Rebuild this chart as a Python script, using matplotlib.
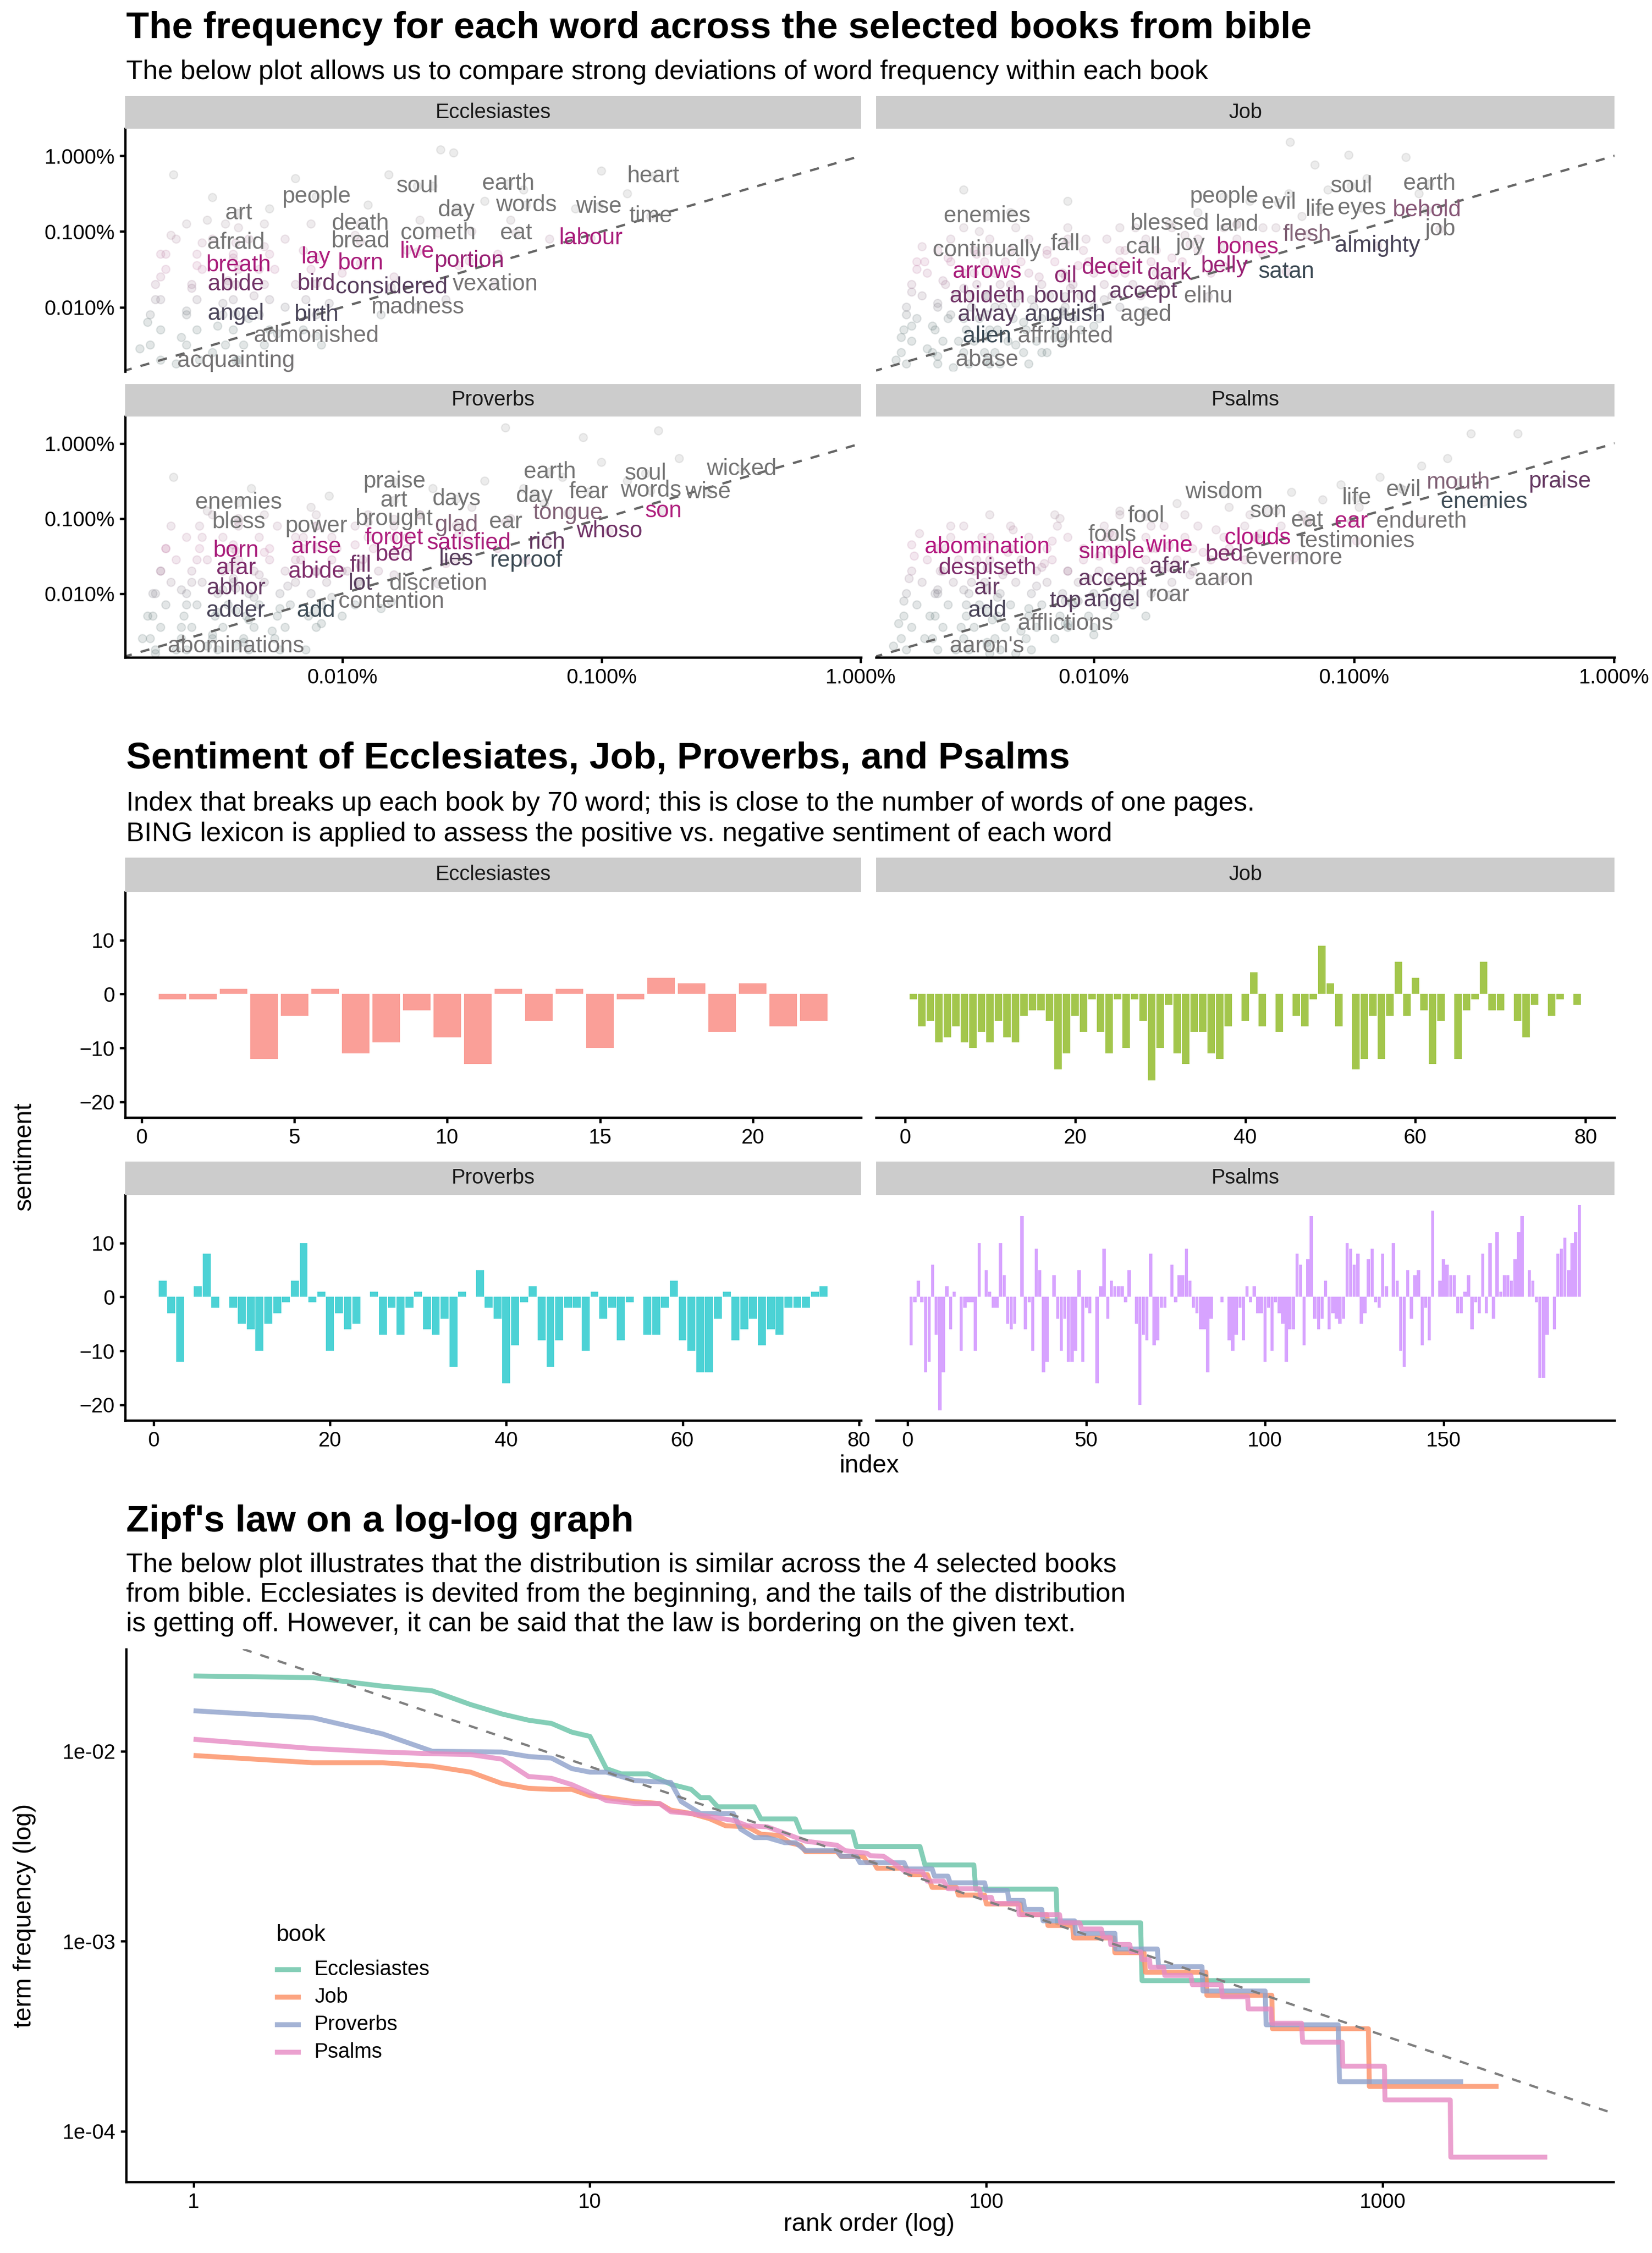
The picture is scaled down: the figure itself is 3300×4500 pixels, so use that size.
import numpy as np
import matplotlib
matplotlib.use("Agg")
import matplotlib.pyplot as plt
from matplotlib.colors import LinearSegmentedColormap
from matplotlib.patches import Rectangle
from matplotlib.lines import Line2D

plt.rcParams["font.family"] = ["Liberation Sans", "DejaVu Sans"]

# ---------- word frequencies (log10 of proportion), x = all books, y = this book ----------
ecc_words = ["heart", "earth", "soul", "people", "day", "words", "wise", "time", "art", "death",
             "cometh", "eat", "labour", "afraid", "bread", "live", "lay", "born", "portion", "breath",
             "abide", "bird", "considered", "vexation", "angel", "birth", "madness", "admonished", "acquainting"]
ecc_x = [-2.80, -3.36, -3.71, -4.10, -3.56, -3.29, -3.01, -2.81, -4.40, -3.93,
         -3.63, -3.33, -3.04, -4.41, -3.93, -3.71, -4.10, -3.93, -3.51, -4.40,
         -4.41, -4.10, -3.81, -3.41, -4.41, -4.10, -3.71, -4.10, -4.41]
ecc_y = [-2.27, -2.37, -2.40, -2.54, -2.72, -2.65, -2.67, -2.80, -2.76, -2.90,
         -3.02, -3.02, -3.09, -3.15, -3.13, -3.27, -3.34, -3.42, -3.39, -3.45,
         -3.70, -3.69, -3.74, -3.70, -4.09, -4.10, -4.00, -4.38, -4.71]
ecc_tone = [0, 0, 0, 0, 0, 0, 0, 0, 0, 0,
            0, 0, 0.55, 0, 0, 0.45, 0.45, 0.55, 0.6, 0.55,
            0.75, 0.78, 0.85, 1, 0.9, 0.9, 1, 1, 1]

job_words = ["earth", "soul", "people", "evil", "life", "eyes", "behold", "job", "enemies", "blessed",
             "land", "flesh", "almighty", "continually", "fall", "call", "joy", "bones", "arrows", "oil",
             "deceit", "dark", "belly", "satan", "abideth", "bound", "accept", "elihu", "alway", "anguish",
             "aged", "alien", "affrighted", "abase"]
job_x = [-2.71, -3.01, -3.50, -3.29, -3.13, -2.97, -2.72, -2.67, -4.41, -3.71,
         -3.45, -3.18, -2.91, -4.41, -4.11, -3.81, -3.63, -3.41, -4.41, -4.11,
         -3.93, -3.71, -3.50, -3.26, -4.41, -4.11, -3.81, -3.56, -4.41, -4.11,
         -3.80, -4.41, -4.11, -4.41]
job_y = [-2.37, -2.40, -2.54, -2.62, -2.71, -2.69, -2.72, -2.97, -2.80, -2.90,
         -2.91, -3.04, -3.19, -3.25, -3.17, -3.21, -3.17, -3.21, -3.53, -3.59,
         -3.48, -3.55, -3.46, -3.53, -3.86, -3.86, -3.80, -3.86, -4.10, -4.10,
         -4.10, -4.39, -4.39, -4.70]
job_tone = [0, 0, 0, 0, 0, 0, 0.15, 1, 0, 0,
            0, 0.1, 0.9, 0, 0, 0, 0, 0.45, 0.55, 0.65,
            0.58, 0.65, 0.6, 0.95, 0.75, 0.8, 0.8, 1, 0.85, 0.9,
            1, 0.95, 1, 1]

pro_words = ["wicked", "soul", "earth", "praise", "words", "wise", "fear", "day", "days", "art",
             "enemies", "tongue", "son", "bless", "power", "brought", "glad", "ear", "whoso", "forget",
             "satisfied", "rich", "born", "arise", "bed", "lies", "reproof", "fill", "afar", "abide",
             "lot", "discretion", "abhor", "contention", "adder", "add", "abominations"]
pro_x = [-2.46, -2.83, -3.20, -3.80, -2.81, -2.59, -3.05, -3.26, -3.56, -3.80,
         -4.40, -3.13, -2.76, -4.40, -4.10, -3.80, -3.56, -3.37, -2.97, -3.80,
         -3.51, -3.21, -4.41, -4.10, -3.80, -3.56, -3.29, -3.93, -4.41, -4.10,
         -3.93, -3.63, -4.41, -3.81, -4.41, -4.10, -4.41]
pro_y = [-2.34, -2.40, -2.38, -2.51, -2.63, -2.65, -2.65, -2.70, -2.74, -2.76,
         -2.79, -2.93, -2.90, -3.05, -3.10, -3.01, -3.09, -3.05, -3.17, -3.26,
         -3.33, -3.32, -3.43, -3.38, -3.48, -3.54, -3.56, -3.63, -3.66, -3.71,
         -3.87, -3.87, -3.93, -4.11, -4.23, -4.23, -4.70]
pro_tone = [0, 0, 0, 0, 0, 0, 0, 0, 0, 0,
            0, 0.1, 0.45, 0, 0, 0, 0.1, 0, 0.75, 0.45,
            0.55, 0.8, 0.55, 0.55, 0.7, 0.85, 0.95, 0.75, 0.7, 0.7,
            0.85, 1, 0.8, 1, 0.9, 0.95, 1]

psa_words = ["praise", "mouth", "evil", "life", "enemies", "wisdom", "son", "fool", "eat", "ear",
             "endureth", "fools", "clouds", "testimonies", "abomination", "simple", "wine", "bed", "evermore", "despiseth",
             "afar", "accept", "aaron", "air", "top", "angel", "roar", "add", "afflictions", "aaron's"]
psa_x = [-2.21, -2.60, -2.81, -2.99, -2.50, -3.50, -3.33, -3.80, -3.18, -3.01,
         -2.74, -3.93, -3.37, -2.99, -4.41, -3.93, -3.71, -3.50, -3.23, -4.41,
         -3.71, -3.93, -3.50, -4.41, -4.11, -3.93, -3.71, -4.41, -4.11, -4.41]
psa_y = [-2.51, -2.52, -2.62, -2.73, -2.78, -2.65, -2.90, -2.97, -3.03, -3.04,
         -3.04, -3.22, -3.26, -3.30, -3.38, -3.45, -3.36, -3.48, -3.53, -3.66,
         -3.65, -3.81, -3.81, -3.93, -4.10, -4.09, -4.02, -4.23, -4.40, -4.70]
psa_tone = [0.8, 0.1, 0, 0, 0.95, 0, 0, 0, 0, 0.45,
            1, 0, 0.5, 1, 0.5, 0.55, 0.5, 0.7, 1, 0.7,
            0.8, 0.8, 1, 0.8, 0.85, 0.85, 1, 0.9, 1, 1]

# faint jittered points behind the words (log10 x, log10 y): scattered ones ...
ecc_cloud_x = [-4.78, -4.75, -4.72, -4.70, -4.68, -4.66, -4.64, -4.62, -4.60, -4.58, -4.56, -4.54, -4.52, -4.50,
               -4.48, -4.46, -4.44, -4.42, -4.40, -4.38, -4.36, -4.34, -4.32, -4.30, -4.28, -4.25, -4.22, -4.18,
               -4.15, -4.12, -4.08, -4.05, -4.00, -3.95, -3.90, -3.85, -3.80, -3.75, -3.70, -3.65, -3.60, -3.55,
               -3.50, -3.45, -3.40, -3.35, -3.30, -3.20, -3.10, -3.00, -2.90, -3.62, -3.57, -4.65, -4.50, -4.18, -3.82]
ecc_cloud_y = [-4.55, -4.20, -3.90, -3.60, -3.30, -3.05, -4.75, -4.40, -4.05, -3.75, -3.45, -3.15, -2.85, -4.60,
               -4.25, -3.95, -3.65, -3.35, -2.95, -4.50, -4.15, -3.85, -3.50, -3.20, -2.70, -4.35, -4.00, -3.70,
               -3.25, -2.90, -4.50, -3.95, -3.55, -3.05, -2.65, -4.10, -3.60, -3.25, -2.85, -2.40, -3.90, -3.45,
               -3.00, -2.60, -3.30, -2.85, -2.45, -3.10, -2.70, -2.20, -2.50, -1.92, -1.96, -2.25, -2.55, -2.30, -2.25]

job_cloud_x = [-4.76, -4.74, -4.72, -4.70, -4.68, -4.66, -4.64, -4.62, -4.60, -4.58, -4.56, -4.54, -4.52, -4.50,
               -4.48, -4.46, -4.44, -4.42, -4.40, -4.38, -4.36, -4.34, -4.32, -4.30, -4.27, -4.24, -4.21, -4.18,
               -4.15, -4.12, -4.09, -4.06, -4.03, -4.00, -3.96, -3.92, -3.88, -3.84, -3.80, -3.75, -3.70, -3.65,
               -3.60, -3.55, -3.50, -3.45, -3.40, -3.35, -3.30, -3.25, -3.20, -3.15, -3.10, -3.02, -2.95, -2.80,
               -2.75, -3.245, -4.50, -4.10, -4.70, -4.60, -4.50, -4.40, -4.30, -4.20, -4.65, -4.55, -4.45, -4.35]
job_cloud_y = [-4.70, -4.40, -4.10, -3.80, -3.50, -3.20, -4.55, -4.25, -3.95, -3.65, -3.35, -4.80, -4.45, -4.15,
               -3.85, -3.55, -3.00, -4.60, -4.30, -4.00, -3.70, -3.40, -2.75, -4.50, -4.20, -3.90, -3.60, -3.30,
               -4.40, -4.05, -3.75, -3.45, -3.10, -4.25, -3.90, -3.55, -3.25, -2.95, -4.05, -3.70, -3.35, -3.05,
               -2.75, -3.55, -3.20, -2.90, -2.60, -3.30, -2.95, -2.50, -2.80, -2.12, -2.45, -1.99, -2.30, -2.02,
               -2.50, -1.82, -2.45, -2.60, -4.25, -4.65, -3.75, -4.75, -3.95, -4.60, -3.40, -4.10, -3.30, -3.85]

pro_cloud_x = [-4.77, -4.75, -4.73, -4.70, -4.68, -4.66, -4.64, -4.62, -4.60, -4.58, -4.56, -4.54, -4.52, -4.50,
               -4.48, -4.46, -4.44, -4.42, -4.40, -4.38, -4.36, -4.34, -4.32, -4.30, -4.27, -4.24, -4.21, -4.18,
               -4.15, -4.12, -4.08, -4.04, -4.00, -3.95, -3.90, -3.85, -3.80, -3.75, -3.70, -3.65, -3.60, -3.55,
               -3.50, -3.45, -3.40, -3.35, -3.30, -3.22, -3.15, -3.07, -3.00, -2.90, -2.78, -2.70, -3.37, -4.65,
               -4.35, -4.05, -4.72, -4.62, -4.52, -4.42]
pro_cloud_y = [-4.60, -4.30, -4.00, -3.70, -3.40, -3.10, -4.75, -4.45, -4.15, -3.85, -3.55, -3.25, -2.90, -4.55,
               -4.25, -3.95, -3.65, -3.35, -3.00, -4.65, -4.35, -4.05, -3.75, -3.45, -4.50, -4.20, -3.90, -3.55,
               -3.25, -2.85, -4.40, -4.05, -3.70, -3.35, -3.05, -4.20, -3.75, -3.40, -2.95, -2.60, -3.60, -3.20,
               -2.85, -2.50, -3.40, -3.00, -2.60, -2.80, -2.45, -1.92, -2.25, -2.50, -1.83, -2.20, -1.79, -2.45,
               -2.60, -2.70, -4.80, -3.95, -4.70, -3.80]

psa_cloud_x = [-4.77, -4.75, -4.73, -4.71, -4.69, -4.67, -4.65, -4.63, -4.61, -4.59, -4.57, -4.55, -4.53, -4.51,
               -4.49, -4.47, -4.45, -4.43, -4.41, -4.39, -4.37, -4.35, -4.33, -4.31, -4.28, -4.25, -4.22, -4.19,
               -4.16, -4.13, -4.10, -4.06, -4.02, -3.98, -3.94, -3.90, -3.86, -3.82, -3.78, -3.73, -3.68, -3.63,
               -3.58, -3.53, -3.48, -3.42, -3.36, -3.30, -3.24, -3.18, -3.12, -3.05, -2.98, -2.90, -2.82, -2.74,
               -2.64, -2.55, -2.37, -4.60, -4.40, -4.20, -4.00, -3.80, -4.70, -4.50, -4.30, -4.10]
psa_cloud_y = [-4.70, -4.40, -4.10, -3.80, -3.50, -3.20, -4.60, -4.30, -4.00, -3.70, -3.40, -3.10, -4.75, -4.45,
               -4.15, -3.85, -3.55, -3.25, -4.65, -4.35, -4.05, -3.75, -3.45, -3.15, -4.50, -4.20, -3.90, -3.60,
               -3.30, -3.00, -4.40, -4.10, -3.80, -3.50, -3.20, -2.90, -4.00, -3.70, -3.40, -3.10, -2.80, -3.75,
               -3.45, -3.15, -2.85, -3.55, -3.20, -2.90, -2.65, -3.05, -2.75, -2.55, -2.85, -2.45, -2.60, -2.30,
               -2.20, -1.87, -1.87, -3.95, -4.80, -3.65, -4.55, -4.30, -3.35, -3.95, -4.80, -3.70]

# ... and the dense low-frequency cores, row by row (log10 y, [log10 x, ...])
ecc_core = [(-4.70, [-4.70, -4.55, -4.40]),
            (-4.50, [-4.74, -4.60, -4.45, -4.30]),
            (-4.30, [-4.70, -4.56, -4.42, -4.28, -4.15]),
            (-4.10, [-4.74, -4.60, -4.46, -4.32]),
            (-3.90, [-4.70, -4.56, -4.42, -4.28, -4.14]),
            (-3.70, [-4.72, -4.58, -4.44, -4.30]),
            (-3.50, [-4.68, -4.54, -4.40, -4.26, -4.12]),
            (-3.30, [-4.70, -4.56, -4.42, -4.28]),
            (-3.10, [-4.64, -4.50, -4.36, -4.22]),
            (-2.90, [-4.60, -4.45, -4.30])]
job_core = [(-4.75, [-4.72, -4.60, -4.48, -4.36, -4.25]),
            (-4.60, [-4.74, -4.62, -4.50, -4.38, -4.27, -4.18]),
            (-4.45, [-4.70, -4.58, -4.46, -4.33, -4.22, -4.12]),
            (-4.30, [-4.73, -4.61, -4.49, -4.37, -4.26, -4.15, -4.05]),
            (-4.15, [-4.68, -4.56, -4.44, -4.31, -4.20, -4.08, -3.98]),
            (-4.00, [-4.72, -4.60, -4.47, -4.35, -4.23, -4.11, -4.00, -3.90]),
            (-3.85, [-4.66, -4.53, -4.41, -4.29, -4.17, -4.05, -3.93, -3.82]),
            (-3.70, [-4.70, -4.57, -4.45, -4.32, -4.20, -4.08, -3.96, -3.85, -3.74]),
            (-3.55, [-4.64, -4.50, -4.38, -4.25, -4.12, -4.00, -3.88, -3.76]),
            (-3.40, [-4.68, -4.55, -4.42, -4.28, -4.15, -4.02, -3.90, -3.78, -3.66]),
            (-3.25, [-4.60, -4.46, -4.32, -4.18, -4.04, -3.90, -3.76, -3.60]),
            (-3.10, [-4.55, -4.40, -4.25, -4.10, -3.95, -3.80, -3.60, -3.45]),
            (-2.95, [-4.50, -4.30, -4.10, -3.90, -3.70, -3.50, -3.35])]
pro_core = [(-4.75, [-4.72, -4.60, -4.48, -4.36, -4.24, -4.14]),
            (-4.60, [-4.74, -4.62, -4.50, -4.38, -4.26]),
            (-4.45, [-4.70, -4.58, -4.46, -4.34, -4.22, -4.10]),
            (-4.30, [-4.73, -4.61, -4.49, -4.37, -4.25, -4.13, -4.00]),
            (-4.15, [-4.68, -4.56, -4.44, -4.32, -4.20, -4.08, -3.95]),
            (-4.00, [-4.72, -4.60, -4.48, -4.36, -4.24, -4.12]),
            (-3.85, [-4.66, -4.54, -4.42, -4.30, -4.18, -4.06, -3.94]),
            (-3.70, [-4.70, -4.58, -4.46, -4.34, -4.22, -4.10, -3.98, -3.86]),
            (-3.55, [-4.64, -4.52, -4.40, -4.28, -4.16, -4.04, -3.92]),
            (-3.40, [-4.68, -4.55, -4.42, -4.28, -4.15, -4.02, -3.88]),
            (-3.25, [-4.60, -4.46, -4.32, -4.18, -4.04, -3.90, -3.75]),
            (-3.10, [-4.55, -4.40, -4.25, -4.10, -3.95, -3.80]),
            (-2.95, [-4.50, -4.30, -4.10, -3.90, -3.70])]
psa_core = [(-4.75, [-4.72, -4.60, -4.48, -4.36, -4.24]),
            (-4.60, [-4.74, -4.62, -4.50, -4.38, -4.26, -4.15]),
            (-4.45, [-4.70, -4.58, -4.46, -4.34, -4.22, -4.10, -4.00]),
            (-4.30, [-4.73, -4.61, -4.49, -4.37, -4.25, -4.13, -4.02, -3.92]),
            (-4.15, [-4.68, -4.56, -4.44, -4.32, -4.20, -4.08, -3.96, -3.85]),
            (-4.00, [-4.72, -4.60, -4.48, -4.36, -4.24, -4.12, -4.00, -3.88, -3.78]),
            (-3.85, [-4.66, -4.54, -4.42, -4.30, -4.18, -4.06, -3.94, -3.82, -3.70]),
            (-3.70, [-4.70, -4.58, -4.46, -4.34, -4.22, -4.10, -3.98, -3.86, -3.74, -3.62]),
            (-3.55, [-4.64, -4.52, -4.40, -4.28, -4.16, -4.04, -3.92, -3.80, -3.68, -3.55]),
            (-3.40, [-4.60, -4.46, -4.32, -4.18, -4.04, -3.90, -3.76, -3.62, -3.48]),
            (-3.25, [-4.55, -4.40, -4.25, -4.10, -3.95, -3.80, -3.65, -3.50, -3.38]),
            (-3.10, [-4.50, -4.32, -4.14, -3.96, -3.78, -3.60, -3.42, -3.28]),
            (-2.95, [-4.40, -4.15, -3.90, -3.65, -3.40, -3.20])]

# ---------- sentiment per 70-word index ----------
ecc_sent = [-1, -1, 1, -12, -4, 1, -11, -9, -3, -8, -13, 1, -5, 1, -10, -1, 3, 2, -7, 2, -6, -5]
job_sent = [-1, -6, -5, -9, -8, -6, -9, -10, -7, -9, -5, -8, -9, -4, -3, -3, -5, -14, -11, -4,
            -7, -1, -7, -11, -1, -10, -1, -5, -16, -10, -2, -11, -13, -7, -7, -11, -12, -6, 0, -5,
            4, -6, 0, -7, 0, -4, -6, -1, 9, 2, -6, 0, -14, -12, -4, -12, -4, 6, -4, 3,
            -3, -13, -5, 0, -12, -3, -1, 6, -3, -3, 0, -5, -8, -2, 0, -4, -1, 0, -2]
pro_sent = [3, -3, -12, 0, 2, 8, -2, 0, -2, -5, -6, -10, -5, -3, -1, 3, 10, -1, 1, -10,
            -3, -6, -5, 0, 1, -7, -2, -7, -2, 1, -6, -7, -4, -13, 1, 0, 5, -2, -4, -16,
            -9, -1, 2, -8, -13, -8, -2, -2, -10, 1, -4, -2, -8, -1, 0, -7, -7, -2, 3, -8,
            -10, -14, -14, -4, 1, -8, -6, -4, -9, -6, -7, -2, -2, -2, 1, 2]
psa_sent = [-9, -1, 3, -1, -14, -12, 6, -7, -21, -14, 2, -6, 1, 0, -10, -2, -1, -1, -10, 10,
            0, 5, 1, -2, -2, 10, 4, -5, -6, -5, 0, 15, -6, -1, -10, 9, 5, -14, -12, 0,
            4, -4, -10, -4, -12, -12, -10, 5, -12, -2, -3, 0, -16, 2, 9, -4, 3, 2, 2, 2,
            -1, 5, 0, -5, -20, -7, -8, 8, -9, -8, -2, -2, 0, 6, -1, 4, 4, 9, 3, -2,
            -3, -6, -6, -14, -4, 0, 0, -1, 0, -8, -10, -7, -2, -8, 2, -1, 2, -3, -3, -12,
            -2, -10, -1, -3, -5, -12, -6, -6, 8, 6, -9, 7, 15, -4, -6, -4, 3, -6, -3, -4,
            -5, -4, 10, 9, 6, 8, -5, -3, 7, 9, -1, -2, 8, 2, 0, 10, 3, -10, -13, 5,
            -4, 4, 5, -9, -2, -8, 16, 0, 3, 7, 6, 4, 4, -3, -3, 1, 4, -6, -1, -3,
            8, -3, 10, -4, 12, 1, 4, 4, 3, 7, 12, 15, 0, 5, 3, -1, -15, -15, -7, 0,
            -6, 8, 9, 11, 5, 10, 12, 17]

# ---------- Zipf: rank vs term frequency (step vertices) ----------
ecc_rank = [1, 2, 3, 4, 5, 6, 7, 8, 9, 10, 11, 12, 14, 16, 18, 19, 20, 21, 26, 27, 33, 34, 46, 47,
            68, 70, 93, 94, 150, 151, 245, 247, 655]
ecc_tf = [.0249, .0244, .0220, .0208, .0176, .0157, .01456, .0140, .0126, .01197, .0081, .0076, .0076,
          .0067, .0063, .0057, .0057, .0051, .0051, .0044, .0044, .00376, .00376, .00315, .00315, .00252,
          .00252, .00188, .00188, .00125, .00125, .00062, .00062]
job_rank = [1, 2, 3, 4, 5, 6, 7, 8, 9, 10, 11, 13, 15, 16, 18, 20, 22, 25, 27, 30, 32, 34, 35, 42,
            43, 49, 50, 52, 53, 63, 64, 71, 73, 84, 85, 99, 100, 122, 123, 142, 143, 165, 166, 210, 211,
            250, 252, 358, 360, 525, 527, 920, 925, 1960]
job_tf = [.0095, .0087, .0087, .00834, .00776, .00676, .00638, .0063, .0063, .00583, .0057, .00543, .0053,
          .0049, .0047, .00442, .00405, .0040, .00366, .0036, .00329, .0032, .00296, .00296, .00279, .00279,
          .0026, .0026, .00242, .00242, .00224, .00224, .00192, .00192, .00175, .00175, .00157, .00157,
          .00138, .00138, .00121, .00121, .00104, .00104, .00087, .00087, .000687, .000687, .000519,
          .000519, .000346, .000346, .000172, .000172]
pro_rank = [1, 2, 3, 4, 6, 7, 8, 9, 10, 11, 13, 16, 17, 19, 23, 24, 26, 28, 31, 33, 35, 42, 43, 47,
            48, 62, 63, 73, 74, 80, 81, 99, 100, 113, 114, 124, 125, 138, 139, 167, 168, 211, 212, 270,
            272, 350, 352, 505, 508, 772, 778, 1595]
pro_tf = [.01633, .0150, .01233, .0100, .0099, .00938, .0092, .0081, .00776, .00776, .0070, .00685,
          .00543, .0047, .0047, .00389, .00351, .00351, .0033, .0033, .0030, .0030, .0028, .0028, .00259,
          .00259, .0024, .0024, .0022, .0022, .00203, .00203, .00185, .00185, .00164, .00164, .00147,
          .00147, .00128, .00128, .0011, .0011, .00091, .00091, .000734, .000734, .000547, .000547,
          .000363, .000363, .000182, .000182]
psa_rank = [1, 2, 3, 4, 5, 6, 7, 8, 9, 10, 11, 13, 15, 16, 18, 23, 25, 28, 31, 35, 42, 44, 50, 51,
            55, 58, 62, 69, 71, 78, 80, 96, 97, 103, 104, 120, 121, 153, 154, 172, 174, 195, 197, 205,
            206, 230, 232, 245, 247, 258, 259, 280, 282, 328, 331, 391, 394, 456, 458, 522, 525, 624,
            628, 790, 793, 1010, 1013, 1480, 1485, 2600]
psa_tf = [.01156, .01033, .0099, .0097, .0096, .00908, .00736, .0072, .00667, .00605, .0055, .0053,
          .0053, .0048, .0047, .00432, .00405, .0040, .0037, .00336, .0032, .0030, .0029, .00282, .0028,
          .0026, .00235, .00232, .00207, .00207, .00189, .00189, .0017, .0017, .00158, .00158, .00138,
          .00138, .00125, .00125, .00116, .00116, .00105, .00105, .00096, .00096, .00088, .00088, .0008,
          .0008, .00073, .00073, .00066, .00066, .00059, .00059, .00051, .00051, .00044, .00044, .00037,
          .00037, .000294, .000294, .00022, .00022, .000146, .000146, .000073, .000073]
zipf_intercept = -1.374
zipf_slope = -0.707

books = ["Ecclesiastes", "Job", "Proverbs", "Psalms"]
hue = ["#F8766D", "#7CAE00", "#00BFC4", "#C77CFF"]
set2 = ["#66C2A5", "#FC8D62", "#8DA0CB", "#E78AC3"]

W, H = 3300, 4500
fig = plt.figure(figsize=(11, 15), dpi=300)
word_cmap = LinearSegmentedColormap.from_list("wc", ["#747474", "#B5177F", "#2F4F4F"])
point_cmap = LinearSegmentedColormap.from_list("pc", ["#8A8A8A", "#C070A0", "#4F6868"])


def box(x0, y0, x1, y1):
    return [x0 / W, 1 - y1 / H, (x1 - x0) / W, (y1 - y0) / H]


def ftext(x, y, s, **kw):
    fig.text(x / W, 1 - y / H, s, **kw)


def strip(x0, y0, x1, y1, label):
    fig.add_artist(Rectangle((x0 / W, 1 - y1 / H), (x1 - x0) / W, (y1 - y0) / H,
                             transform=fig.transFigure, facecolor="#CCCCCC", edgecolor="none"))
    ftext((x0 + x1) / 2, (y0 + y1) / 2, label, ha="center", va="center", fontsize=10, color="#1A1A1A")


def classic(ax, left=True, bottom=True):
    for s in ["top", "right"]:
        ax.spines[s].set_visible(False)
    for s in ["left", "bottom"]:
        ax.spines[s].set_linewidth(1.1)
    ax.spines["left"].set_visible(left)
    ax.spines["bottom"].set_visible(bottom)
    ax.tick_params(length=2.75, width=1.1, pad=2.2, labelsize=10, colors="black")
    if not left:
        ax.tick_params(axis="y", left=False, labelleft=False)
    if not bottom:
        ax.tick_params(axis="x", bottom=False, labelbottom=False)


# ================= section 1 =================
ftext(252, 76, "The frequency for each word across the selected books from bible",
      fontsize=18, fontweight="bold", va="baseline")
ftext(252, 158, "The below plot allows us to compare strong deviations of word frequency within each book",
      fontsize=13, va="baseline")

cols = [(250, 1720), (1750, 3225)]
rows1 = [(192, 257, 742), (767, 832, 1313)]
word_sets = [(ecc_words, ecc_x, ecc_y, ecc_tone, ecc_cloud_x, ecc_cloud_y, ecc_core),
             (job_words, job_x, job_y, job_tone, job_cloud_x, job_cloud_y, job_core),
             (pro_words, pro_x, pro_y, pro_tone, pro_cloud_x, pro_cloud_y, pro_core),
             (psa_words, psa_x, psa_y, psa_tone, psa_cloud_x, psa_cloud_y, psa_core)]
pct = ["0.010%", "0.100%", "1.000%"]

for k, (words, wx, wy, tone, cx, cy, core) in enumerate(word_sets):
    r, c = divmod(k, 2)
    s0, p0, p1 = rows1[r]
    x0, x1 = cols[c]
    strip(x0, s0, x1, p0, books[k])
    ax = fig.add_axes(box(x0, p0, x1, p1))
    ax.set_xscale("log")
    ax.set_yscale("log")
    px = list(cx) + list(wx) + [x for _, xs in core for x in xs]
    py = list(cy) + list(wy) + [y for y, xs in core for _ in xs]
    px = np.array(px)
    py = np.array(py)
    ptone = np.clip((-2.7 - py) / 1.5, 0, 1)
    ax.scatter(10 ** px, 10 ** py, s=15, c=point_cmap(ptone), alpha=0.16,
               edgecolors=point_cmap(ptone), linewidths=0.6)
    ax.plot([1e-6, 1], [1e-6, 1], color="#666666", lw=1.1, ls=(0, (4, 4)))
    for w, x, y, t in zip(words, wx, wy, tone):
        ax.text(10 ** x, 10 ** y, w, color=word_cmap(t), fontsize=11, ha="center", va="center")
    ax.set_xlim(10 ** -4.837, 10 ** -1.999)
    ax.set_ylim(10 ** -4.85, 10 ** -1.64)
    ax.set_xticks([1e-4, 1e-3, 1e-2])
    ax.set_xticklabels(pct)
    ax.set_yticks([1e-4, 1e-3, 1e-2])
    ax.set_yticklabels(pct)
    ax.minorticks_off()
    classic(ax, left=(c == 0), bottom=(r == 1))

# ================= section 2 =================
ftext(252, 1535, "Sentiment of Ecclesiates, Job, Proverbs, and Psalms",
      fontsize=18, fontweight="bold", va="baseline")
ftext(252, 1619, "Index that breaks up each book by 70 word; this is close to the number of words of one pages.",
      fontsize=13, va="baseline")
ftext(252, 1680, "BING lexicon is applied to assess the positive vs. negative sentiment of each word",
      fontsize=13, va="baseline")

rows2 = [(1713, 1782, 2232), (2320, 2387, 2837)]
sents = [ecc_sent, job_sent, pro_sent, psa_sent]
xticks2 = [[0, 5, 10, 15, 20], [0, 20, 40, 60, 80], [0, 20, 40, 60, 80], [0, 50, 100, 150]]
ymin = min(min(s) for s in sents)
ymax = max(max(s) for s in sents)
ypad = 0.05 * (ymax - ymin)
for k, vals in enumerate(sents):
    r, c = divmod(k, 2)
    s0, p0, p1 = rows2[r]
    x0, x1 = cols[c]
    strip(x0, s0, x1, p0, books[k])
    ax = fig.add_axes(box(x0, p0, x1, p1))
    idx = np.arange(1, len(vals) + 1)
    ax.bar(idx, vals, width=0.9, color=hue[k], alpha=0.7, linewidth=0)
    lo, hi = 0.55, len(vals) + 0.45
    pad = 0.05 * (hi - lo)
    ax.set_xlim(lo - pad, hi + pad)
    ax.set_ylim(ymin - ypad, ymax + ypad)
    ax.set_xticks(xticks2[k])
    ax.set_yticks([-20, -10, 0, 10])
    classic(ax, left=(c == 0), bottom=True)

ftext(49, 2310, "sentiment", rotation=90, ha="center", va="center", fontsize=12)
ftext(1736, 2928, "index", ha="center", va="center", fontsize=12)

# ================= section 3 =================
ftext(252, 3059, "Zipf's law on a log-log graph", fontsize=18, fontweight="bold", va="baseline")
sub3 = ["The below plot illustrates that the distribution is similar across the 4 selected books",
        "from bible. Ecclesiates is devited from the beginning, and the tails of the distribution",
        "is getting off. However, it can be said that the law is bordering on the given text."]
for i, line in enumerate(sub3):
    ftext(252, 3140 + 59 * i, line, fontsize=13, va="baseline")

ax = fig.add_axes(box(252, 3294, 3223, 4358))
ax.set_xscale("log")
ax.set_yscale("log")
curves = [(ecc_rank, ecc_tf), (job_rank, job_tf), (pro_rank, pro_tf), (psa_rank, psa_tf)]
for k, (rk, tf) in enumerate(curves):
    ax.plot(rk, tf, color=set2[k], lw=2.35, alpha=0.8, solid_joinstyle="round", solid_capstyle="butt")
rr = np.array([0.3, 10000.0])
ax.plot(rr, 10 ** (zipf_intercept + zipf_slope * np.log10(rr)), color="#7F7F7F", lw=1.1, ls=(0, (4, 4)))
ax.set_xlim(10 ** -0.17, 10 ** 3.582)
ax.set_ylim(10 ** -4.267, 10 ** -1.463)
ax.set_xticks([1, 10, 100, 1000])
ax.set_xticklabels(["1", "10", "100", "1000"])
ax.set_yticks([1e-4, 1e-3, 1e-2])
ax.set_yticklabels(["1e-04", "1e-03", "1e-02"])
ax.minorticks_off()
classic(ax)

ftext(49, 3826, "term frequency (log)", rotation=90, ha="center", va="center", fontsize=12)
ftext(1736, 4443, "rank order (log)", ha="center", va="center", fontsize=12)

# legend
ftext(551, 3865, "book", ha="left", va="center", fontsize=11)
for k, b in enumerate(books):
    yy = 3934 + 55 * k
    fig.add_artist(Line2D([554 / W, 596 / W], [1 - yy / H, 1 - yy / H], transform=fig.transFigure,
                          color=set2[k], lw=2.35, alpha=0.8))
    ftext(628, yy, b, ha="left", va="center", fontsize=10)

fig.savefig("out.png", dpi=300)
